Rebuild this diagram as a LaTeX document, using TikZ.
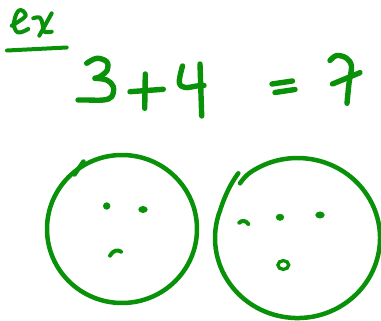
\documentclass[tikz,border=0pt]{standalone}
\begin{document}
\definecolor{ink}{RGB}{10,145,10}
\begin{tikzpicture}[x=1pt,y=-1pt,
  pen/.style={draw=ink,line width=5.4pt,line cap=round,line join=round},
  ringpen/.style={draw=ink,line width=4.5pt,line cap=round,line join=round},
  finepen/.style={draw=ink,line width=4pt,line cap=round,line join=round},
  blob/.style={fill=ink}]
\useasboundingbox (0,0) rectangle (381,321);
% "ex" and underline
\draw[finepen] plot[smooth,tension=0.7] coordinates {(11.7,25.7) (24,17.7) (25,13.3) (20.7,10) (16.7,13.3) (14,23.3) (16,31) (20.7,32.3) (28.3,29)};
\draw[finepen] plot[smooth,tension=0.7] coordinates {(33.3,18.3) (40,17.7) (42.7,25) (44.3,31.7) (51.7,31.7)};
\draw[finepen] (51.7,13.3) -- (39.3,35.7);
\draw[finepen] (7,50.5) -- (66.7,47.5);
% 3
\draw[pen] plot[smooth,tension=0.6] coordinates {(86.7,63.3) (96.7,58.3) (106.7,61.7) (107.3,70) (100,76.7) (95,78.3)};
\draw[pen] plot[smooth,tension=0.6] coordinates {(95,78.3) (106.7,80) (113.3,86.7) (111.7,96.7) (103.3,100) (86.7,100) (78,100)};
% +
\draw[pen] (130,91.7) -- (163.3,89.3);
\draw[pen] (145.3,74) -- (144.7,108.3);
% 4
\draw[pen] plot[smooth,tension=0.6] coordinates {(182.5,66) (179.3,82.3) (185,87.5) (196.7,86) (204,85.5)};
\draw[pen] (200,64) -- (201.7,116);
% =
\draw[pen] (272,84) -- (292.5,81);
\draw[pen] (275,92.5) -- (295,89.5);
% 7
\draw[pen] plot[smooth,tension=0.6] coordinates {(330,60.5) (336.7,55.5) (346.7,58.3) (351.5,66.7) (349,83.3) (347,103.3)};
\draw[pen] (332.5,84) -- (360,72.7);
% left circle
\draw[ringpen] (122,229) ellipse [x radius=75,y radius=74];
\draw[ringpen] (83.5,161.5) -- (74.5,174.5);
\fill[blob] (106.7,206) ellipse [x radius=3.7,y radius=3.7];
\fill[blob] (143,209.5) ellipse [x radius=4.7,y radius=3.5];
\draw[finepen] (110,255.7) .. controls (113,250) and (118,249.5) .. (121,251.7);
% right circle
\draw[ringpen] (240,183.3) .. controls (243,179) and (246,175.5) .. (250.2,172.5)
  arc[start angle=235,end angle=560,x radius=82.5,y radius=80]
  .. controls (225,195) and (231,183) .. (238.3,173.3);
\draw[finepen] (239.3,222.7) .. controls (242,220) and (246,220.5) .. (248.3,224);
\fill[blob] (280,217.3) ellipse [x radius=4.2,y radius=3.5];
\fill[blob] (320,215) ellipse [x radius=4.7,y radius=3.5];
\draw[draw=ink,line width=3.3pt] (283.3,265) ellipse [x radius=5.4,y radius=4.4];
\end{tikzpicture}
\end{document}
